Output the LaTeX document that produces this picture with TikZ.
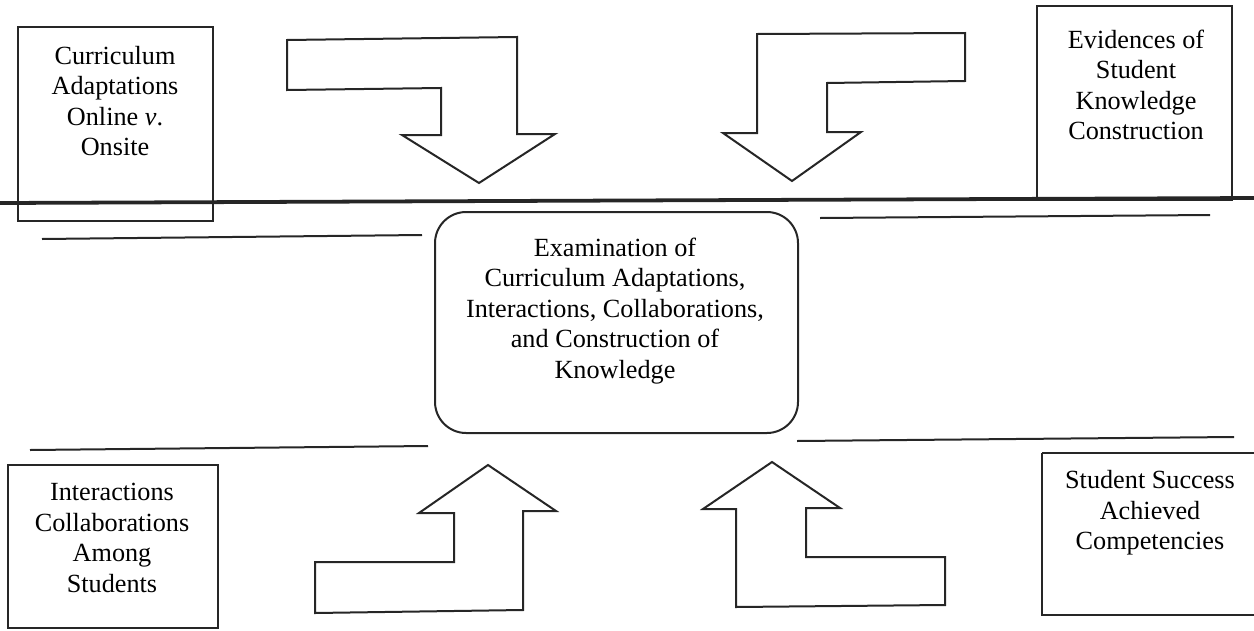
\documentclass[tikz,border=0pt]{standalone}
\usepackage{fontspec}
\setmainfont{Liberation Serif}
\begin{document}
\begin{tikzpicture}[x=0.45pt,y=-0.45pt,
  boxline/.style={draw=black!85, line width=0.9pt},
  thinline/.style={draw=black!85, line width=0.9pt},
  thickline/.style={draw=black!85, line width=1.7pt},
  bendarrow/.style={draw=black!85, line width=0.9pt, line join=miter, fill=white},
  label/.style={align=center, font=\fontsize{11.8}{13.7}\selectfont, inner sep=0pt}]
\useasboundingbox (0,0) rectangle (1254,630);

% main horizontal line
\coordinate (mL) at (0,203);
\coordinate (mR) at (1254,198);
\draw[thickline] (mL) -- (mR);

% thin lines
\coordinate (ul1) at (42,239);  \coordinate (ul2) at (422,235);
\coordinate (ur1) at (820,218); \coordinate (ur2) at (1210,215);
\coordinate (ll1) at (30,450);  \coordinate (ll2) at (428,446);
\coordinate (lr1) at (797,441); \coordinate (lr2) at (1234,437);
\draw[thinline] (ul1) -- (ul2);
\draw[thinline] (ur1) -- (ur2);
\draw[thinline] (ll1) -- (ll2);
\draw[thinline] (lr1) -- (lr2);

% corner boxes
\draw[boxline] (18,27) rectangle (213,221);
\node[label] (tl) at (115,101) {Curriculum\\Adaptations\\Online \textit{v}.\\Onsite};

\draw[boxline] (1037,6) rectangle (1232,200);
\node[label] (tr) at (1136,85) {Evidences of\\Student\\Knowledge\\Construction};

\draw[boxline] (8,465) rectangle (218,628);
\node[label] (bl) at (112,538) {Interactions\\Collaborations\\Among\\Students};

\draw[boxline] (1042,453) -- (1258,453) (1042,453) -- (1042,615) -- (1258,615);
\node[label] (br) at (1150,513) {Student Success\\Achieved\\Competencies};

% central rounded box
\draw[boxline, rounded corners=14pt] (435,212) rectangle (798,433);
\node[label] (c) at (615,311) {Examination of\\Curriculum Adaptations,\\Interactions, Collaborations,\\and Construction of\\Knowledge};

% bent block arrows
\draw[bendarrow] (287,40) -- (517,37) -- (517,134) -- (555,134) -- (479,183)
  -- (402,135) -- (441,135) -- (441,88) -- (287,90) -- cycle;
\draw[bendarrow] (757,34) -- (965,33) -- (965,81) -- (827,83) -- (827,132)
  -- (861,132) -- (792,181) -- (723,133) -- (757,133) -- cycle;
\draw[bendarrow] (488,465) -- (556,511) -- (523,511) -- (523,610) -- (315,613)
  -- (315,562) -- (454,562) -- (454,513) -- (419,513) -- cycle;
\draw[bendarrow] (772,462) -- (840,508) -- (806,508) -- (806,557) -- (945,557)
  -- (945,605) -- (736,607) -- (736,509) -- (703,509) -- cycle;
\end{tikzpicture}
\end{document}
